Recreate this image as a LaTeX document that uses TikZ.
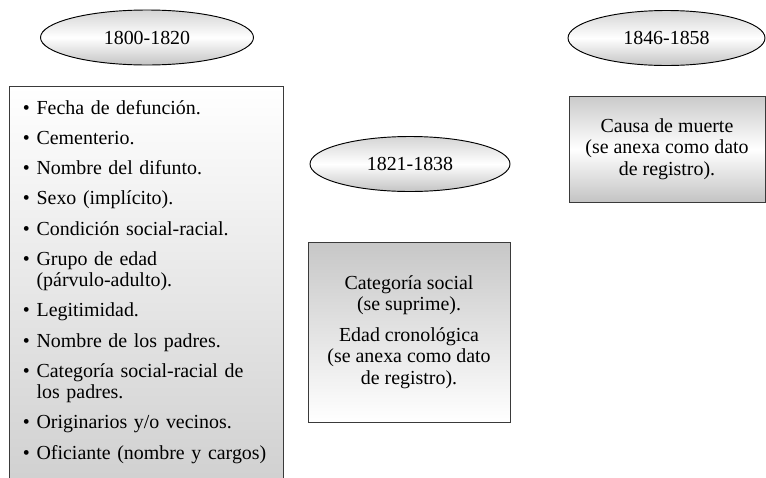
\documentclass[tikz,border=0pt]{standalone}
\usepackage{fontspec}
\setmainfont{Liberation Serif}
\usetikzlibrary{positioning}
\usetikzlibrary{shapes.geometric}
\definecolor{ShadeGray}{HTML}{BDBDBD}
\definecolor{EdgeGray}{HTML}{3A3A3A}

\begin{document}
\begin{tikzpicture}[
    every node/.style={font=\fontsize{17}{18.5}\selectfont},
    period/.style={ellipse, draw=black, line width=0.8pt, inner sep=0pt,
      minimum height=1.65cm, shading=axis, top color=ShadeGray!65,
      bottom color=ShadeGray!90, middle color=white},
    fieldbox/.style={rectangle, draw=EdgeGray, line width=0.8pt, inner sep=0pt}
  ]
  \useasboundingbox (0,0) rectangle (22.98,-14.31);

  \node [period, minimum width=6.39cm] (PerOne)   at (4.41,-1.125)  {1800-1820};
  \node [period, minimum width=6.0cm]  (PerTwo)   at (12.3,-4.92)   {1821-1838};
  \node [period, minimum width=5.91cm] (PerThree) at (19.995,-1.14) {1846-1858};

  \node [fieldbox, minimum width=8.22cm, minimum height=11.76cm,
    shading=axis, top color=white, bottom color=ShadeGray!70,
    align=left, text width=7.38cm, inner xsep=0.42cm] (BoxOne) at (4.38,-8.46)
  {\textbullet\ Fecha de defunción.\\[7.2pt]
   \textbullet\ Cementerio.\\[7.2pt]
   \textbullet\ Nombre del difunto.\\[7.2pt]
   \textbullet\ Sexo (implícito).\\[7.2pt]
   \textbullet\ Condición social-racial.\\[7.2pt]
   \textbullet\ Grupo de edad\\
   \phantom{\textbullet\ }(párvulo-adulto).\\[7.2pt]
   \textbullet\ Legitimidad.\\[7.2pt]
   \textbullet\ Nombre de los padres.\\[7.2pt]
   \textbullet\ Categoría social-racial de\\
   \phantom{\textbullet\ }los padres.\\[7.2pt]
   \textbullet\ Originarios y/o vecinos.\\[7.2pt]
   \textbullet\ Oficiante (nombre y cargos)};

  \node [fieldbox, minimum width=6.06cm, minimum height=5.4cm,
    shading=axis, top color=ShadeGray!85, bottom color=white,
    align=center] (BoxTwo) at (12.27,-9.96)
  {Categoría social\\
   (se suprime).\\[7.2pt]
   Edad cronológica\\
   (se anexa como dato\\
   de registro).};

  \node [fieldbox, minimum width=5.88cm, minimum height=3.18cm,
    shading=axis, top color=ShadeGray!80, bottom color=ShadeGray!90,
    middle color=white, align=center] (BoxThree) at (20.01,-4.47)
  {Causa de muerte\\
   (se anexa como dato\\
   de registro).};
\end{tikzpicture}
\end{document}
